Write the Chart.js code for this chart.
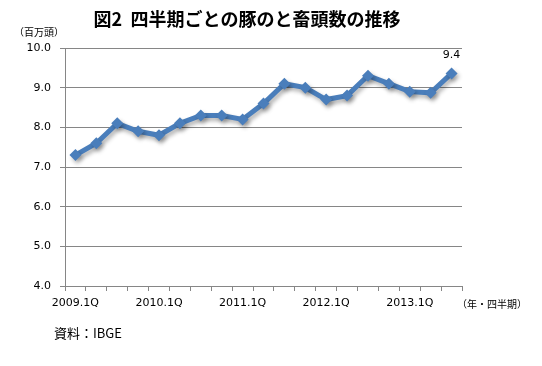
<!DOCTYPE html>
<html>
<head>
<meta charset="utf-8">
<script src="https://cdn.jsdelivr.net/npm/chart.js@4.4.0/dist/chart.umd.min.js"></script>
<style>
  html, body { margin: 0; padding: 0; background: #fff; }
  #wrap { width: 542px; height: 366px; }
</style>
</head>
<body>
<div id="wrap"><canvas id="chartCanva" width="542" height="366"></canvas></div>
<script>
// quarters 2009.1Q .. 2013.3Q
const quarters = [
  "2009.1Q", "2009.2Q", "2009.3Q", "2009.4Q",
  "2010.1Q", "2010.2Q", "2010.3Q", "2010.4Q",
  "2011.1Q", "2011.2Q", "2011.3Q", "2011.4Q",
  "2012.1Q", "2012.2Q", "2012.3Q", "2012.4Q",
  "2013.1Q", "2013.2Q", "2013.3Q"
];
// pigs slaughtered, millions of head
const slaughter = [7.3, 7.6, 8.1, 7.9, 7.8, 8.1, 8.3, 8.3, 8.2, 8.6, 9.1, 9.0, 8.7, 8.8, 9.3, 9.1, 8.9, 8.87, 9.36];
const yTicks = [4.0, 5.0, 6.0, 7.0, 8.0, 9.0, 10.0];

const title = "図2  四半期ごとの豚のと畜頭数の推移";
const unitY = "（百万頭）";
const unitX = "（年・四半期）";
const source = "資料：IBGE";
const lastLabel = "9.4";

const jp = "'Noto Sans CJK JP', 'Noto Sans', sans-serif";
const num = "'DejaVu Sans', 'Liberation Sans', sans-serif";

// texts around the plot
const textPlugin = {
  id: "texts",
  afterDraw(chart) {
    const ctx = chart.ctx;
    ctx.save();
    ctx.fillStyle = "#000";
    ctx.textBaseline = "middle";
    ctx.font = "bold 18px " + jp;
    ctx.textAlign = "center";
    ctx.fillText(title, 247, 19);
    ctx.font = "10px " + jp;
    ctx.textAlign = "left";
    ctx.fillText(unitY, 14, 32);
    ctx.fillText(unitX, 457, 304);
    ctx.font = "13px " + jp;
    ctx.fillText(source, 54, 333);
    // label on the last point
    const meta = chart.getDatasetMeta(0);
    const p = meta.data[meta.data.length - 1];
    ctx.font = "11px " + num;
    ctx.textAlign = "center";
    ctx.fillText(lastLabel, p.x, p.y - 18);
    ctx.restore();
  }
};

// soft shadow under the line like the original
const shadowPlugin = {
  id: "shadow",
  beforeDatasetDraw(chart) {
    const ctx = chart.ctx;
    ctx.save();
    ctx.shadowColor = "rgba(0,0,0,0.3)";
    ctx.shadowBlur = 4;
    ctx.shadowOffsetX = 2;
    ctx.shadowOffsetY = 3;
  },
  afterDatasetDraw(chart) {
    chart.ctx.restore();
  }
};

new Chart(document.getElementById("chartCanva"), {
  type: "line",
  data: {
    labels: quarters,
    datasets: [{
      data: slaughter,
      borderColor: "#4A7EBB",
      backgroundColor: "#4A7EBB",
      pointBackgroundColor: "#4A7EBB",
      pointBorderWidth: 0,
      borderWidth: 5,
      pointStyle: "rectRot",
      pointRadius: 6,
      pointHoverRadius: 6,
      tension: 0
    }]
  },
  options: {
    responsive: false,
    animation: false,
    layout: { padding: { left: 0, right: 80, top: 48, bottom: 0 } },
    plugins: { legend: { display: false }, tooltip: { enabled: false } },
    scales: {
      x: {
        offset: true,
        grid: { offset: true, drawOnChartArea: false, drawTicks: true, tickLength: 5, color: "#868686" },
        border: { color: "#868686" },
        ticks: {
          autoSkip: false,
          maxRotation: 0,
          padding: 6,
          color: "#000",
          font: { family: num, size: 11 },
          callback: function (value, index) {
            const l = quarters[index];
            return l.endsWith(".1Q") ? l : "";
          }
        },
        afterFit: (scale) => { scale.height = 80; }
      },
      y: {
        min: 4,
        max: 10,
        afterBuildTicks: (scale) => { scale.ticks = yTicks.map(v => ({ value: v })); },
        grid: { color: "#868686", tickLength: 5 },
        border: { color: "#868686" },
        ticks: {
          padding: 9,
          color: "#000",
          font: { family: num, size: 11 },
          callback: (v) => v.toFixed(1)
        },
        afterFit: (scale) => { scale.width = 65; }
      }
    }
  },
  plugins: [textPlugin, shadowPlugin]
});
</script>
</body>
</html>
